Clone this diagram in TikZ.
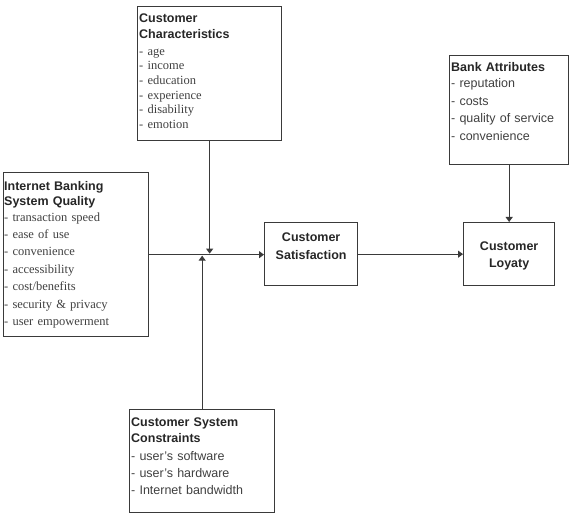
\documentclass[tikz,border=0pt]{standalone}
\usepackage{fontspec}
\setmainfont{Liberation Serif}
\setsansfont{Liberation Sans}
\usepackage{xcolor}
\usetikzlibrary{shapes,arrows.meta,positioning}
\definecolor{linegray}{HTML}{3A3A3A}
\definecolor{headgray}{HTML}{262626}
\definecolor{itemgray}{HTML}{404040}

\begin{document}
\begin{tikzpicture}[->, >={Triangle[length=5pt,width=7pt]}, x=1pt, y=-1pt]
        \tikzstyle{boxframe}=[draw=linegray, line width=1.3pt, inner sep=0pt, anchor=north west]
        \tikzstyle{headtext}=[inner sep=0pt, align=left, text=headgray, font=\sffamily\bfseries\fontsize{12.5}{15.5}\selectfont, execute at begin node=\strut]
        \tikzstyle{itemtext}=[inner sep=0pt, align=left, text=itemgray, execute at begin node=\strut]
        \tikzstyle{link}=[draw=linegray, line width=1.1pt]
        \useasboundingbox (0,0) rectangle (577,518);
        % frames
        \node[boxframe, minimum width=144pt, minimum height=134pt] (cc)   at (137,6)   {};
        \node[boxframe, minimum width=145pt, minimum height=164pt] (ibsq) at (3,172)   {};
        \node[boxframe, minimum width=93pt,  minimum height=63pt]  (sat)  at (264,222) {};
        \node[boxframe, minimum width=91pt,  minimum height=63pt]  (loy)  at (463,222) {};
        \node[boxframe, minimum width=119pt, minimum height=109pt] (bank) at (449,55)  {};
        \node[boxframe, minimum width=145pt, minimum height=103pt] (csc)  at (129,409) {};
        % texts
        \node[headtext, text width=140pt, below right=5.6pt and 2pt of cc.north west] (cc head) {Customer\\Characteristics};
        \node[itemtext, text width=140pt, below right=38.8pt and 2pt of cc.north west, font=\rmfamily\fontsize{12.5}{14.6}\selectfont] (cc items)
            {- age\\- income\\- education\\- experience\\- disability\\- emotion};
        \node[headtext, text width=141pt, below right=7.2pt and 1pt of ibsq.north west] (ibsq head) {Internet Banking\\System Quality};
        \node[itemtext, text width=141pt, below right=36.8pt and 1pt of ibsq.north west, font=\rmfamily\fontsize{12.5}{17.4}\selectfont] (ibsq items)
            {- transaction speed\\- ease of use\\- convenience\\- accessibility\\- cost/benefits\\- security \& privacy\\- user empowerment};
        \node[headtext, text width=115pt, below right=5.7pt and 2pt of bank.north west] (bank head) {Bank Attributes};
        \node[itemtext, text width=115pt, below right=20.25pt and 2pt of bank.north west, font=\sffamily\fontsize{12.5}{17.5}\selectfont] (bank items)
            {- reputation\\- costs\\- quality of service\\- convenience};
        \node[headtext, text width=141pt, below right=6.7pt and 2pt of csc.north west] (csc head) {Customer System\\Constraints};
        \node[itemtext, text width=141pt, below right=39.1pt and 2pt of csc.north west, font=\sffamily\fontsize{12.5}{17}\selectfont] (csc items)
            {- user's software\\- user's hardware\\- Internet bandwidth};
        \node[headtext, align=center, text width=89pt, font=\sffamily\bfseries\fontsize{12.5}{17.6}\selectfont, below=7.4pt of sat.north] (sat text) {Customer\\Satisfaction};
        \node[headtext, align=center, text width=87pt, font=\sffamily\bfseries\fontsize{12.5}{17.5}\selectfont, below=15.75pt of loy.north] (loy text) {Customer\\Loyaty};
        % connectors
        \path
        (ibsq.east)  edge[link] (ibsq.east -| sat.west)
        (cc.south)   edge[link] ([yshift=1pt]cc.south |- ibsq.east)
        (csc.north)  edge[link] ([yshift=-1pt]csc.north |- ibsq.east)
        (sat.east)   edge[link] (loy.west)
        (bank.south) edge[link] (loy.north);
\end{tikzpicture}
\end{document}
